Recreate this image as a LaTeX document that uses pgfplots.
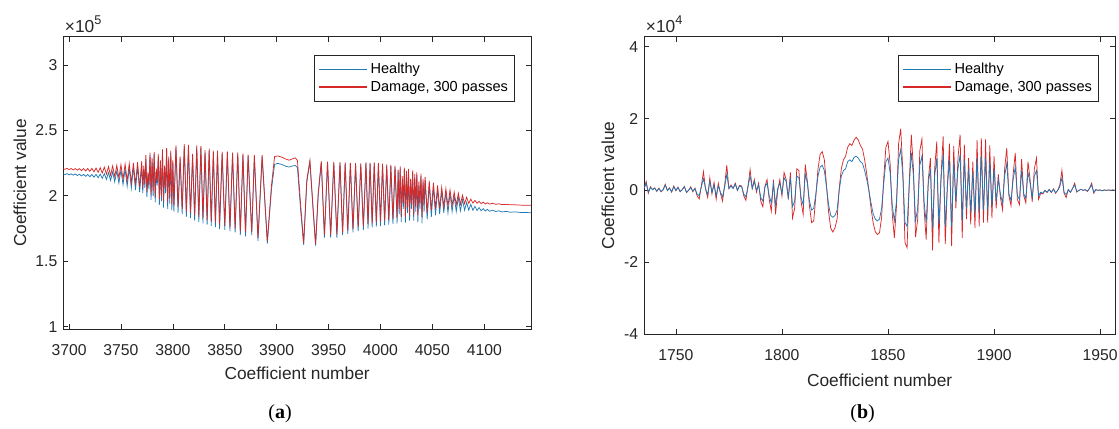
\documentclass[border=0pt]{standalone}
\usepackage{pgfplots}
\pgfplotsset{compat=1.18}
\usepackage{pgfplotstable}
\usepackage{fontspec}
\setmainfont{Liberation Sans}
\newfontfamily\capfont{Liberation Serif}

\definecolor{healthy}{RGB}{30,120,180}
\definecolor{damage}{RGB}{215,40,40}
\definecolor{axgray}{RGB}{38,38,38}

% (a) coefficient values, units of 1e5
\pgfplotstableread{
x h d
3694 2.170 2.210
3696 2.162 2.202
3698 2.170 2.210
3700 2.160 2.200
3702 2.168 2.209
3704 2.158 2.198
3706 2.167 2.208
3708 2.155 2.196
3710 2.165 2.208
3712 2.152 2.193
3714 2.164 2.208
3716 2.149 2.190
3718 2.163 2.209
3720 2.146 2.187
3722 2.163 2.210
3724 2.142 2.183
3726 2.164 2.212
3728 2.138 2.179
3730 2.166 2.215
3732 2.133 2.174
3734 2.170 2.219
3736 2.125 2.166
3738 2.177 2.223
3740 2.117 2.157
3742 2.184 2.228
3744 2.107 2.147
3746 2.191 2.233
3748 2.097 2.137
3750 2.198 2.238
3752 2.086 2.126
3754 2.205 2.243
3756 2.073 2.114
3758 2.212 2.247
3760 2.058 2.099
3762 2.219 2.252
3764 2.043 2.084
3766 2.225 2.258
3768 2.028 2.068
3770 2.232 2.264
3771 2.020 2.060
3772 2.200 2.230
3773 2.060 2.090
3774 2.280 2.310
3775 1.990 2.030
3776 2.150 2.180
3777 2.050 2.080
3778 2.310 2.330
3779 1.970 2.010
3780 2.260 2.290
3781 2.000 2.040
3782 2.320 2.335
3783 1.950 1.990
3784 2.180 2.210
3785 2.080 2.110
3786 2.300 2.320
3787 1.930 1.975
3788 2.240 2.270
3789 1.960 2.000
3790 2.340 2.355
3791 1.910 1.960
3792 2.200 2.230
3793 2.020 2.060
3794 2.350 2.365
3795 1.900 1.950
3796 2.280 2.300
3797 1.940 1.985
3798 2.330 2.345
3799 1.890 1.935
3800 2.250 2.270
3801 1.880 1.925
3803 2.370 2.385
3805 1.870 1.915
3807 2.280 2.300
3809 1.860 1.900
3811 2.380 2.395
3813 1.840 1.880
3815 2.370 2.390
3817 1.830 1.870
3819 2.300 2.320
3821 1.810 1.850
3823 2.370 2.385
3825 1.800 1.840
3827 2.365 2.380
3829 1.790 1.830
3831 2.330 2.350
3833 1.780 1.815
3835 2.345 2.360
3837 1.770 1.805
3839 2.330 2.345
3841 1.760 1.795
3843 2.330 2.345
3845 1.745 1.780
3847.5 2.320 2.335
3850 1.740 1.770
3852.5 2.325 2.340
3855 1.730 1.760
3857.5 2.315 2.330
3860 1.720 1.750
3862.5 2.320 2.332
3865 1.700 1.730
3867.5 2.310 2.325
3870 1.690 1.720
3872.5 2.300 2.315
3876 1.700 1.725
3878.5 2.300 2.312
3882 1.655 1.680
3886 2.295 2.310
3891 1.635 1.655
3895 2.050 2.080
3898 2.240 2.300
3901 2.248 2.305
3905 2.240 2.295
3909 2.225 2.280
3912 2.220 2.272
3915 2.228 2.282
3918 2.232 2.290
3920 2.215 2.270
3923 1.900 1.940
3926 1.625 1.640
3929 2.100 2.120
3932 2.260 2.270
3935 1.900 1.920
3937.5 1.620 1.630
3940 2.000 2.020
3943 2.255 2.265
3946 1.680 1.700
3949 2.255 2.262
3952 1.680 1.700
3955 2.250 2.260
3958 1.680 1.705
3961 2.250 2.258
3963.5 1.700 1.720
3966 2.245 2.255
3968.5 1.710 1.735
3971 2.245 2.252
3973.5 1.720 1.745
3976 2.240 2.250
3978.5 1.730 1.760
3981 2.240 2.248
3983.5 1.740 1.770
3986 2.250 2.255
3988 1.750 1.785
3990 2.245 2.252
3992 1.760 1.790
3994 2.250 2.255
3996 1.765 1.800
3998 2.240 2.250
4000 1.770 1.805
4002 2.235 2.245
4004 1.775 1.810
4006 2.230 2.240
4008 1.780 1.815
4010 2.225 2.235
4012 1.785 1.820
4014 2.220 2.230
4016 1.790 1.830
4017 2.180 2.200
4018 1.860 1.900
4019 2.210 2.225
4020 1.800 1.840
4021 2.120 2.150
4022 1.900 1.940
4023 2.200 2.215
4024 1.795 1.840
4025 2.170 2.190
4026 1.870 1.910
4027 2.190 2.205
4028 1.810 1.850
4029 2.100 2.130
4030 1.900 1.940
4031 2.180 2.195
4032 1.810 1.855
4033 2.140 2.165
4034 1.880 1.920
4035 2.160 2.180
4036 1.800 1.850
4037 2.080 2.110
4038 1.900 1.940
4039 2.150 2.170
4040 1.790 1.840
4041 2.100 2.130
4042 1.880 1.930
4043 2.120 2.145
4045 1.820 1.870
4047 2.090 2.115
4049 1.840 1.890
4051 2.070 2.100
4053 1.850 1.900
4055 2.050 2.080
4057 1.860 1.905
4059 2.040 2.065
4061 1.870 1.915
4063 2.030 2.055
4065 1.870 1.920
4067 2.020 2.045
4069 1.880 1.925
4071 2.000 2.030
4073 1.880 1.930
4075 1.990 2.020
4077 1.885 1.935
4079 1.970 2.005
4081 1.890 1.940
4083 1.950 1.990
4085 1.890 1.942
4087 1.935 1.975
4089 1.890 1.945
4091 1.920 1.965
4093 1.888 1.943
4095 1.910 1.958
4097 1.886 1.940
4099 1.902 1.952
4101 1.884 1.938
4103 1.897 1.947
4105 1.882 1.937
4108 1.890 1.943
4111 1.880 1.935
4114 1.886 1.939
4117 1.877 1.933
4121 1.881 1.935
4125 1.875 1.931
4130 1.877 1.931
4135 1.873 1.929
4140 1.873 1.928
4145 1.870 1.928
}\tabA

% (b) coefficient values, units of 1e4
\pgfplotstableread{
x h d
1735 0.05 0.05
1736 0.20 0.25
1737 -0.05 -0.08
1738 0.08 0.10
1739 0.02 0.02
1740 0.06 0.07
1741 -0.02 -0.03
1742 0.05 0.06
1743 -0.03 -0.04
1744 0.02 0.02
1745 0.15 0.17
1746 0.00 -0.01
1747 0.06 0.07
1748 -0.04 -0.05
1749 0.10 0.12
1750 0.00 -0.01
1751 0.08 0.09
1752 -0.03 -0.04
1753 0.02 0.02
1754 0.10 0.11
1755 -0.05 -0.06
1756 0.00 0.00
1757 0.08 0.10
1758 -0.02 -0.04
1759 0.05 0.06
1760 -0.10 -0.15
1761 -0.15 -0.24
1762 0.10 0.12
1763 0.32 0.52
1764 0.05 0.03
1765 -0.12 -0.20
1766 0.25 0.35
1767 -0.05 -0.10
1768 0.15 0.22
1769 -0.15 -0.25
1770 0.12 0.20
1771 -0.05 -0.08
1772 -0.18 -0.30
1773 0.10 0.15
1774 0.45 0.70
1775 0.05 0.05
1776 0.12 0.15
1777 0.05 0.06
1778 0.18 0.20
1779 0.00 0.00
1780 0.12 0.14
1781 0.10 0.12
1782 -0.10 -0.15
1783 -0.18 -0.28
1784 0.10 0.12
1785 0.40 0.58
1786 0.05 0.05
1787 0.25 0.30
1788 0.00 -0.05
1789 0.15 0.20
1790 -0.20 -0.30
1791 -0.30 -0.46
1792 0.10 0.12
1793 0.20 0.30
1794 -0.15 -0.25
1795 -0.35 -0.58
1796 0.18 0.30
1797 -0.40 -0.67
1798 0.05 0.00
1799 0.20 0.30
1800 -0.10 -0.15
1801 0.35 0.50
1802 0.25 0.30
1803 -0.20 -0.25
1804 0.35 0.50
1805 -0.45 -0.77
1806 -0.30 -0.50
1807 0.40 0.60
1808 0.35 0.55
1809 -0.20 -0.30
1810 -0.40 -0.67
1811 0.45 0.72
1812 0.20 0.25
1813 -0.30 -0.45
1814 -0.55 -0.90
1815 -0.50 -0.85
1816 -0.10 -0.15
1817 0.40 0.60
1818 0.65 1.00
1819 0.70 1.08
1820 0.55 0.85
1821 0.10 0.15
1822 -0.40 -0.60
1823 -0.70 -1.05
1824 -0.75 -1.16
1825 -0.70 -1.05
1826 -0.55 -0.80
1827 0.00 0.05
1828 0.40 0.60
1829 0.55 0.85
1830 0.60 0.95
1831 0.80 1.20
1832 0.85 1.30
1833 0.80 1.25
1834 0.92 1.40
1835 0.95 1.48
1836 0.90 1.40
1837 0.80 1.25
1838 0.75 1.15
1839 0.55 0.85
1840 0.30 0.45
1841 0.00 0.00
1842 -0.35 -0.50
1843 -0.65 -0.90
1844 -0.80 -1.15
1845 -0.85 -1.23
1846 -0.80 -1.18
1847 -0.50 -0.75
1848 0.20 0.35
1849 0.80 1.20
1850 0.90 1.36
1851 0.50 0.75
1852 -0.40 -0.65
1853 -0.85 -1.32
1854 -0.30 -0.45
1855 0.85 1.30
1856 1.15 1.72
1857 0.40 0.55
1858 -0.90 -1.45
1859 -1.00 -1.60
1860 0.10 0.20
1861 1.05 1.55
1862 0.40 0.60
1863 -0.85 -1.30
1864 -0.50 -0.80
1865 0.70 1.10
1866 0.95 1.43
1867 -0.30 -0.50
1868 -0.90 -1.37
1869 0.20 0.30
1870 0.60 0.90
1871 -1.05 -1.67
1872 0.40 0.60
1873 0.90 1.36
1874 -0.95 -1.46
1875 0.30 0.40
1876 1.00 1.50
1877 -1.00 -1.50
1878 0.10 0.15
1879 0.85 1.30
1880 -1.00 -1.55
1881 0.80 1.24
1882 -0.30 -0.50
1883 0.60 0.90
1884 1.00 1.55
1885 -0.85 -1.32
1886 0.85 1.27
1887 -0.50 -0.80
1888 0.60 0.90
1889 -0.60 -0.95
1890 0.50 0.80
1891 -0.65 -1.05
1892 0.90 1.40
1893 -0.60 -1.00
1894 0.95 1.45
1895 -0.55 -0.90
1896 0.90 1.42
1897 -0.55 -0.90
1898 0.80 1.25
1899 -0.45 -0.77
1900 0.60 0.95
1901 -0.30 -0.50
1902 0.30 0.45
1903 -0.10 -0.20
1904 -0.35 -0.54
1905 0.40 0.60
1906 0.75 1.18
1907 -0.10 -0.15
1908 -0.28 -0.43
1909 0.30 0.45
1910 0.65 1.04
1911 -0.15 -0.25
1912 -0.25 -0.40
1913 0.55 0.87
1914 -0.10 -0.15
1915 -0.22 -0.35
1916 0.50 0.80
1917 0.20 0.30
1918 -0.20 -0.32
1919 0.40 0.60
1920 0.55 0.90
1921 -0.15 -0.25
1922 -0.05 -0.08
1923 -0.08 -0.10
1924 0.00 0.00
1925 -0.05 -0.06
1926 0.02 0.03
1927 -0.05 -0.06
1928 0.03 0.04
1929 -0.06 -0.08
1930 0.00 0.00
1931 0.10 0.15
1932 0.35 0.56
1933 -0.05 -0.08
1934 -0.12 -0.20
1935 0.02 0.02
1936 -0.05 -0.06
1937 0.05 0.05
1938 0.15 0.20
1939 -0.03 -0.05
1940 0.00 0.00
1941 0.03 0.03
1942 0.00 0.00
1943 0.02 0.02
1944 -0.02 -0.03
1945 0.05 0.06
1946 0.15 0.20
1947 -0.05 -0.08
1948 0.02 0.02
1949 0.00 0.00
1950 0.01 0.01
1951 -0.01 -0.01
1952 0.01 0.01
1953 0.00 0.00
1954 0.01 0.01
1955 0.00 0.00
1956 0.01 0.01
1957 0.00 0.00
}\tabB

\newcommand{\scalelabel}[1]{×10\raisebox{0.45em}{\fontsize{9.5}{10}\selectfont #1}}

\pgfplotsset{
  matlab/.style={
    scale only axis,
    anchor=south west,
    axis line style={draw=axgray, line width=0.6pt},
    tick style={draw=axgray, line width=0.5pt},
    tick align=inside,
    major tick length=3.75pt,
    tick label style={font=\fontsize{11.8}{13}\selectfont, text=axgray},
    /pgf/number format/assume math mode=true,
    /pgf/number format/1000 sep={},
    scaled ticks=false,
    label style={font=\fontsize{13}{15}\selectfont, text=axgray},
    xticklabel style={yshift=-8pt},
    yticklabel style={xshift=-1pt},
    xlabel={Coefficient number},
    ylabel={Coefficient value},
    legend style={draw=axgray, line width=0.6pt, fill=white,
      font=\fontsize{10.9}{13}\selectfont, text=black,
      at={(1,1)}, anchor=north east, xshift=-12pt, yshift=-13.5pt,
      inner xsep=3pt, inner ysep=4pt},
    legend cell align=left,
    legend image code/.code={\draw[#1, line width=0.8pt] (0pt,0pt) -- (36pt,0pt);},
  },
}

\begin{document}
\begin{tikzpicture}
\useasboundingbox (0,0) rectangle (839.25pt,321pt);

\begin{axis}[matlab, name=pa,
  at={(47.5pt,74pt)},
  width=350.75pt, height=219.5pt,
  xmin=3694.5, xmax=4145,
  ymin=0.98, ymax=3.216,
  xtick={3700,3750,...,4100},
  ytick={1,1.5,2,2.5,3},
  xlabel style={at={(axis description cs:0.5,-0.149)}, anchor=center},
  ylabel style={at={(axis description cs:-0.093,0.5)}, anchor=center},
]
  \addplot[color=healthy, line width=0.55pt] table[x=x, y=h] {\tabA};
  \addlegendentry{Healthy}
  \addplot[color=damage, line width=0.55pt] table[x=x, y=d] {\tabA};
  \addlegendentry{Damage, 300 passes}
\end{axis}

\begin{axis}[matlab, name=pb,
  at={(483.2pt,70.5pt)},
  width=353pt, height=223pt,
  xmin=1735.1, xmax=1957,
  ymin=-4, ymax=4.28,
  xtick={1750,1800,...,1950},
  ytick={-4,-2,0,2,4},
  reverse legend,
  xlabel style={at={(axis description cs:0.5,-0.155)}, anchor=center},
  ylabel style={at={(axis description cs:-0.077,0.5)}, anchor=center},
]
  \addplot[color=damage, line width=0.55pt] table[x=x, y=d] {\tabB};
  \addlegendentry{Damage, 300 passes}
  \addplot[color=healthy, line width=0.55pt] table[x=x, y=h] {\tabB};
  \addlegendentry{Healthy}
\end{axis}

\node[anchor=south west, inner sep=0pt, text=axgray,
      font=\fontsize{13}{14}\selectfont]
  at ([xshift=1pt, yshift=3pt]pa.north west) {\scalelabel{5}};
\node[anchor=south west, inner sep=0pt, text=axgray,
      font=\fontsize{13}{14}\selectfont]
  at ([xshift=1pt, yshift=3pt]pb.north west) {\scalelabel{4}};

\node[font=\capfont\fontsize{15}{17}\selectfont] at (210pt,11pt) {(\textbf{a})};
\node[font=\capfont\fontsize{15}{17}\selectfont] at (647pt,11pt) {(\textbf{b})};
\end{tikzpicture}
\end{document}
